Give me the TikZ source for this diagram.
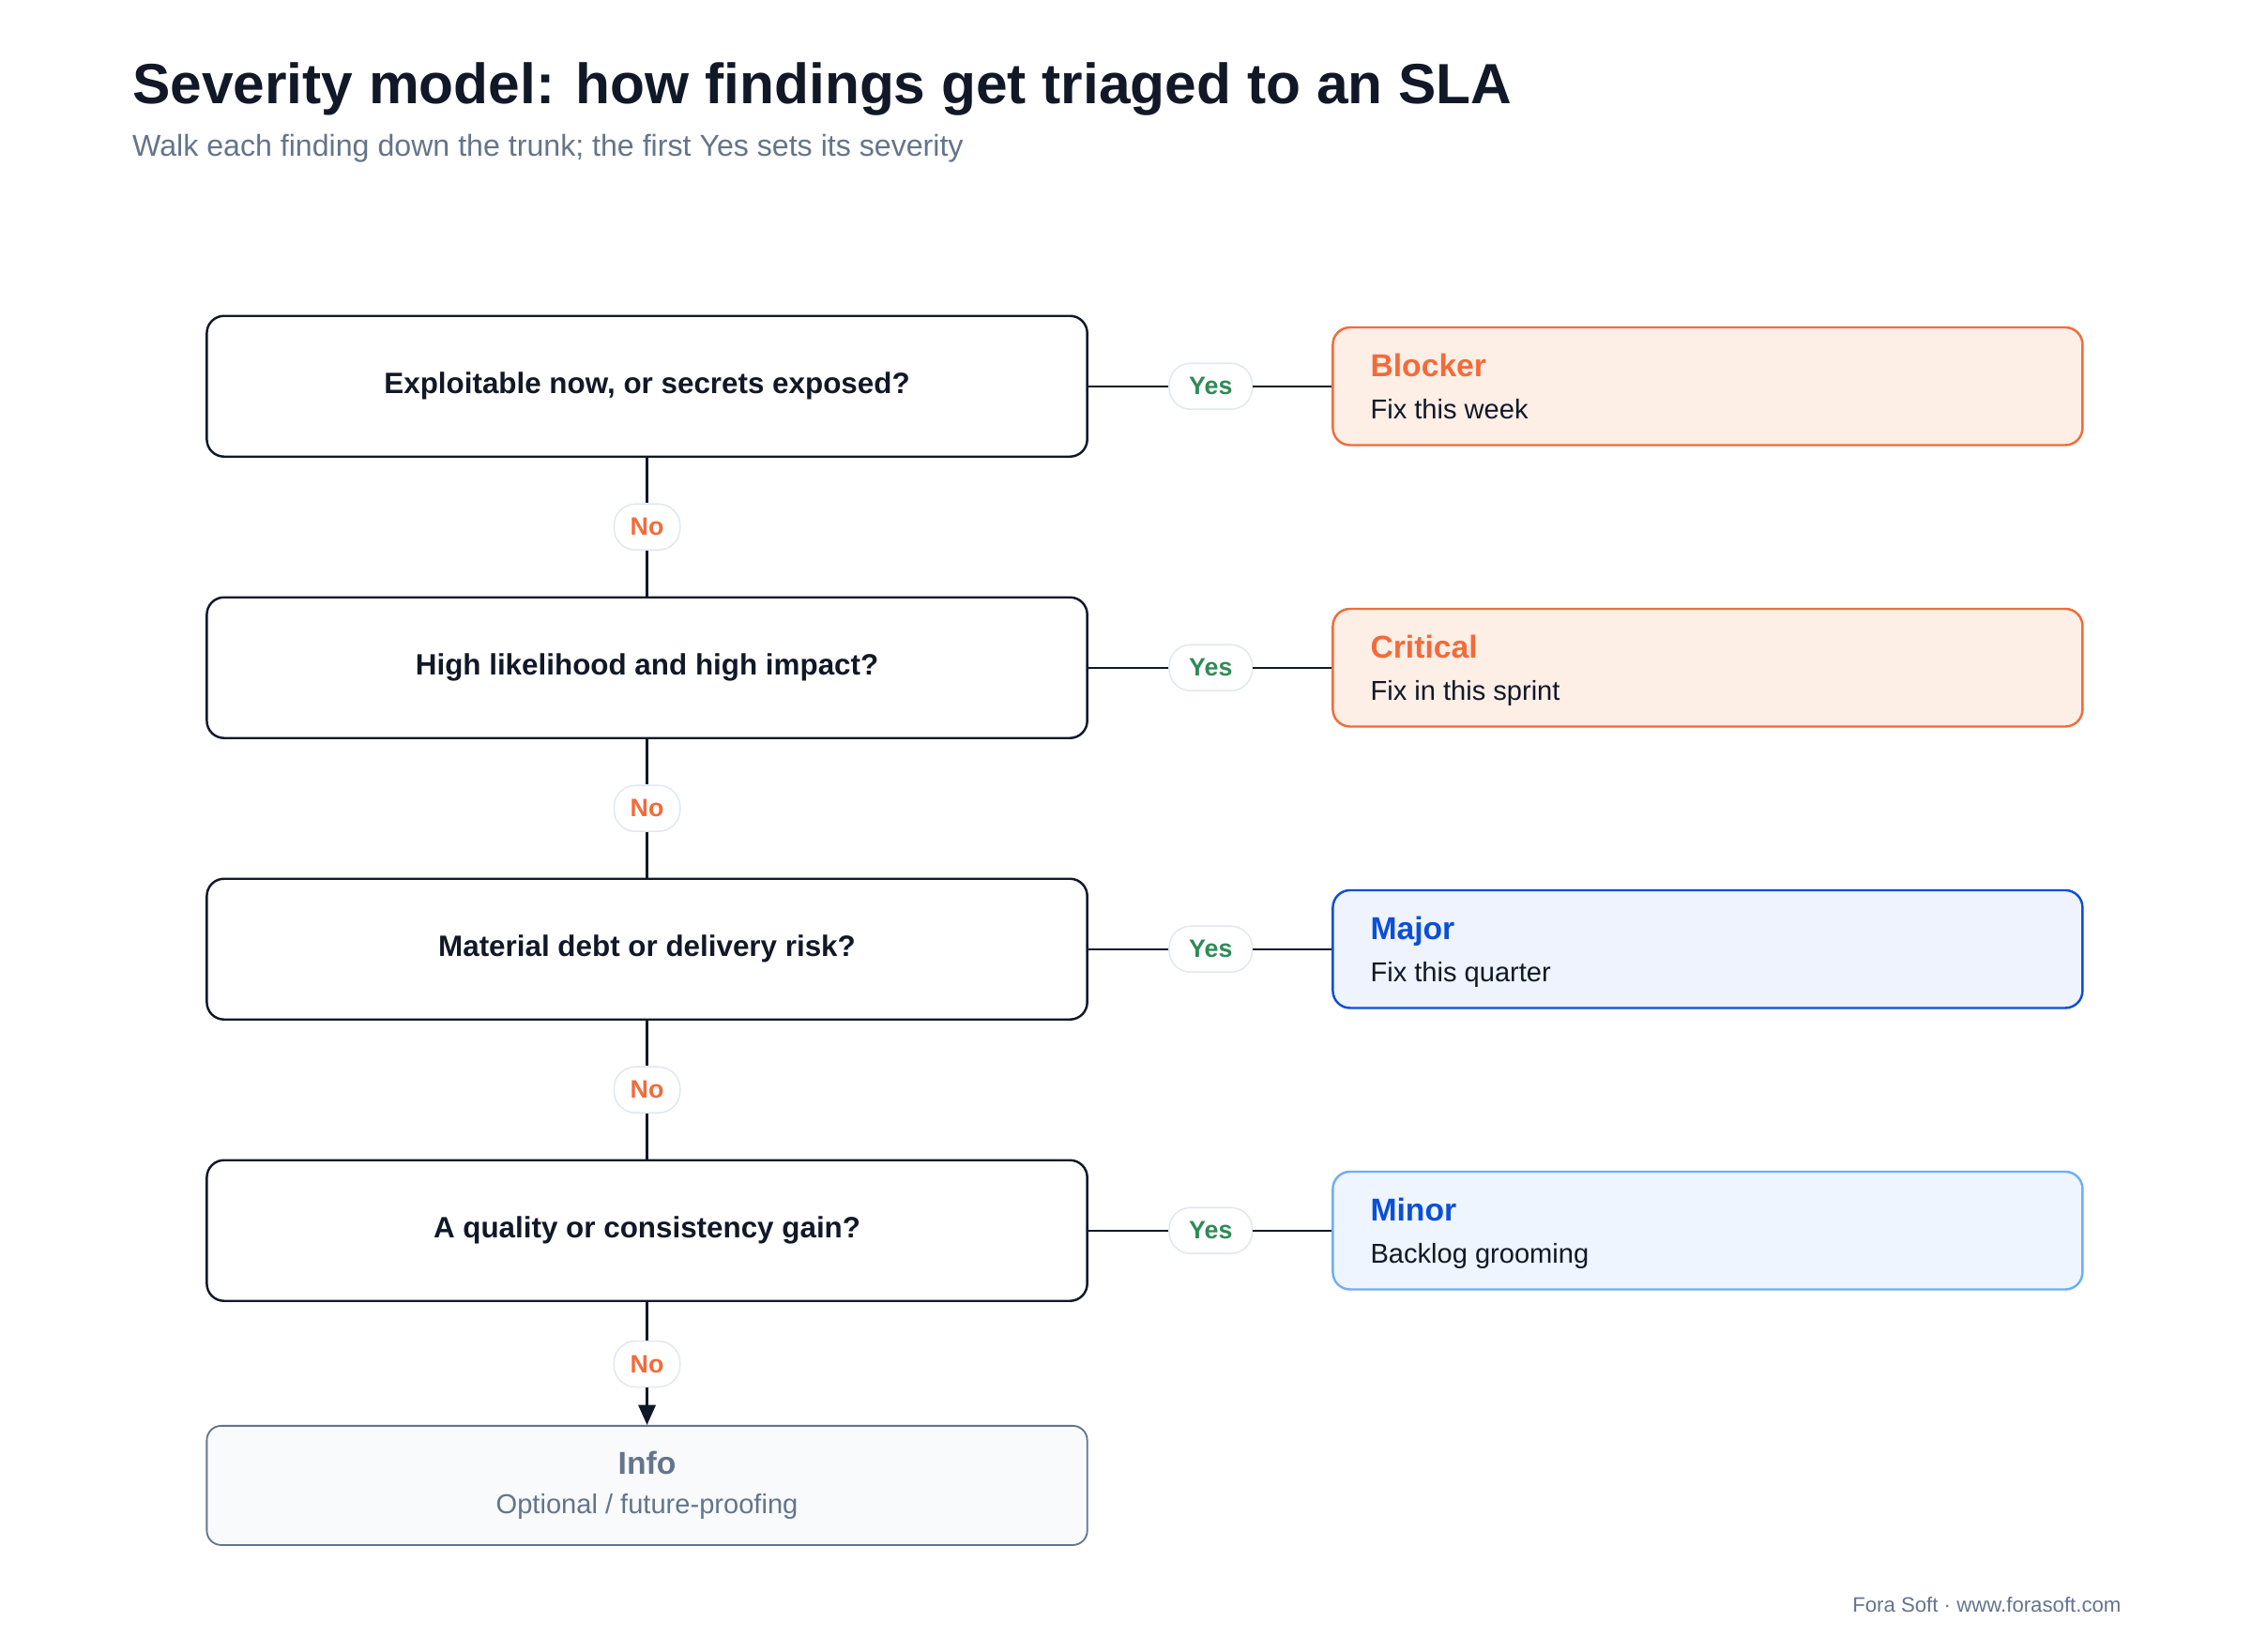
\documentclass[tikz,border=0pt]{standalone}
\usepackage{fontspec}
\setmainfont{Liberation Sans}
\usetikzlibrary{arrows.meta}
\definecolor{ink}{HTML}{111827}
\definecolor{sub}{HTML}{64748B}
\definecolor{org}{HTML}{F26B3A}
\definecolor{orgf}{HTML}{FDEEE6}
\definecolor{blu}{HTML}{0B4FD6}
\definecolor{bluf}{HTML}{EEF3FD}
\definecolor{lblu}{HTML}{70AEF5}
\definecolor{lbluf}{HTML}{EEF5FE}
\definecolor{grn}{HTML}{2E8B57}
\definecolor{pill}{HTML}{E2E8F0}
\definecolor{infof}{HTML}{F8FAFC}
\tikzset{
 q/.style={draw=ink,line width=1.6pt,rounded corners=12pt,minimum width=613pt,minimum height=98pt,font=\fontsize{20.5}{24}\selectfont\bfseries,text=ink},
 res/.style={line width=1.6pt,rounded corners=12pt,minimum width=522pt,minimum height=82pt},
 yes/.style={draw=pill,fill=white,line width=1pt,rounded corners=15pt,minimum width=58pt,minimum height=32pt,text=grn,font=\fontsize{17.5}{20}\selectfont\bfseries},
 no/.style={draw=pill,fill=white,line width=1pt,rounded corners=15pt,minimum width=46pt,minimum height=32pt,text=org,font=\fontsize{17.5}{20}\selectfont\bfseries},
 ln/.style={draw=ink,line width=1.6pt},
 rt/.style={anchor=base west,font=\fontsize{22}{26}\selectfont\bfseries},
 rs/.style={anchor=base west,font=\fontsize{19}{23}\selectfont,text=ink}
}
\begin{document}
\begin{tikzpicture}[x=1pt,y=-1pt]
\useasboundingbox[fill=white] (0,0) rectangle (1568,1150);
\node[anchor=base west,text=ink,font=\fontsize{39.5}{46}\selectfont\bfseries,inner sep=0pt] (title) at (92,72) {Severity model: how findings get triaged to an SLA};
\node[anchor=base west,text=sub,font=\fontsize{21}{25}\selectfont,inner sep=0pt] (subt) at (92,109) {Walk each finding down the trunk; the first Yes sets its severity};
\foreach \i/\y/\t in {1/269/{Exploitable now, or secrets exposed?},2/465/{High likelihood and high impact?},3/661/{Material debt or delivery risk?},4/857/{A quality or consistency gain?}}{
 \node[q] (q\i) at (450.5,\y) {\t};
 \node[yes] (y\i) at (843,\y) {Yes};
}
\node[res,draw=org,fill=orgf] (r1) at (1189,269) {};
\node[res,draw=org,fill=orgf] (r2) at (1189,465) {};
\node[res,draw=blu,fill=bluf] (r3) at (1189,661) {};
\node[res,draw=lblu,fill=lbluf] (r4) at (1189,857) {};
\node[rt,text=org,inner sep=0pt] (t1) at (954,262) {Blocker};
\node[rs,inner sep=0pt] (s1) at (954,292) {Fix this week};
\node[rt,text=org,inner sep=0pt] (t2) at (954,458) {Critical};
\node[rs,inner sep=0pt] (s2) at (954,488) {Fix in this sprint};
\node[rt,text=blu,inner sep=0pt] (t3) at (954,654) {Major};
\node[rs,inner sep=0pt] (s3) at (954,684) {Fix this quarter};
\node[rt,text=blu,inner sep=0pt] (t4) at (954,850) {Minor};
\node[rs,inner sep=0pt] (s4) at (954,880) {Backlog grooming};
\foreach \i in {1,2,3,4}{
 \draw[ln] (q\i.east) -- (y\i.west);
 \draw[ln] (y\i.east) -- (r\i.west);
}
\node[draw=sub,fill=infof,line width=1.2pt,rounded corners=10pt,minimum width=613pt,minimum height=83pt] (info) at (450.5,1034.5) {};
\node[text=sub,font=\fontsize{22}{26}\selectfont\bfseries] (it) at (450.5,1019) {Info};
\node[text=sub,font=\fontsize{19}{23}\selectfont] (is) at (450.5,1049) {Optional / future-proofing};
\node[no] (n1) at (450.5,367) {No};
\node[no] (n2) at (450.5,563) {No};
\node[no] (n3) at (450.5,759) {No};
\node[no] (n4) at (450.5,950) {No};
\draw[ln] (q1.south) -- (n1.north); \draw[ln] (n1.south) -- (q2.north);
\draw[ln] (q2.south) -- (n2.north); \draw[ln] (n2.south) -- (q3.north);
\draw[ln] (q3.south) -- (n3.north); \draw[ln] (n3.south) -- (q4.north);
\draw[ln] (q4.south) -- (n4.north);
\draw[ln,-{Triangle[length=14pt,width=12pt]}] (n4.south) -- (info.north);
\node[anchor=base east,text=sub,font=\fontsize{14.5}{17}\selectfont,inner sep=0pt] (foot) at (1477,1123) {Fora Soft · www.forasoft.com};
\end{tikzpicture}
\end{document}
